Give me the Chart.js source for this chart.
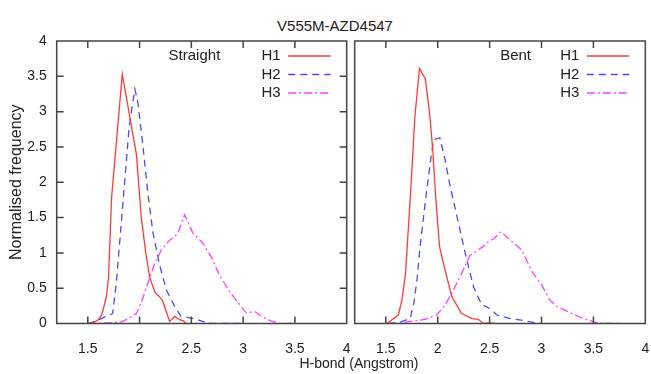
<!DOCTYPE html>
<html>
<head>
<meta charset="utf-8">
<script src="https://cdn.jsdelivr.net/npm/chart.js@4.4.1/dist/chart.umd.min.js"></script>
<style>
  body { margin: 0; background: #fff; }
  #wrap { position: relative; width: 651px; height: 374px; font-family: "Liberation Sans", Arial, sans-serif; color: #222; }
  #left { position: absolute; left: 0; top: 0; }
  #right { position: absolute; left: 351px; top: 0; }
  .txt { position: absolute; text-align: center; white-space: nowrap; }
</style>
</head>
<body>
<div id="wrap">
  <div class="txt" style="left:235px; width:200px; top:17px; line-height:18px; font-size:15px;">V555M-AZD4547</div>
  <canvas id="left" width="351" height="374"></canvas>
  <canvas id="right" width="300" height="374"></canvas>
  <div class="txt" style="left:259px; width:200px; top:354px; line-height:18px; font-size:14px;">H-bond (Angstrom)</div>
</div>
<script>
'use strict'

// tick positions
const xTicks = [1.5, 2, 2.5, 3, 3.5, 4];
const seriesNames = ['H1', 'H2', 'H3'];
const panelNames = ['Straight', 'Bent'];

// Straight panel, [H-bond, frequency]
const straightH1 = [[1.5,0],[1.55,0.01],[1.6,0.05],[1.635,0.12],[1.68,0.38],[1.7,0.64],[1.73,1.78],[1.833,3.53],
  [1.97,2.39],[2.016,1.51],[2.06,1.0],[2.1,0.64],[2.15,0.44],[2.19,0.38],[2.22,0.33],[2.29,0.03],[2.34,0.1],
  [2.39,0.05],[2.42,0.04],[2.45,0]];
const straightH2 = [[1.5,0],[1.57,0.03],[1.63,0.07],[1.74,0.14],[1.775,0.57],[1.81,1.18],[1.85,1.89],[1.9,2.79],
  [1.955,3.32],[1.984,3.12],[2.03,2.55],[2.08,1.85],[2.13,1.28],[2.19,0.85],[2.26,0.47],[2.34,0.24],[2.4,0.1],
  [2.45,0.09],[2.55,0.06],[2.65,0.01],[2.7,0],[3.0,0]];
const straightH3 = [[1.5,0],[1.69,0.01],[1.82,0.02],[1.89,0.07],[1.97,0.14],[2.02,0.31],[2.08,0.57],[2.145,0.85],
  [2.21,1.04],[2.29,1.18],[2.34,1.23],[2.37,1.28],[2.435,1.54],[2.515,1.28],[2.61,1.14],[2.69,0.95],[2.77,0.69],
  [2.87,0.45],[2.97,0.26],[3.03,0.15],[3.11,0.17],[3.18,0.1],[3.26,0.04],[3.35,0],[3.48,0]];

// Bent panel
const bentH1 = [[1.51,0],[1.62,0.12],[1.655,0.33],[1.69,0.71],[1.72,1.42],[1.74,1.89],[1.78,2.93],[1.824,3.61],
  [1.88,3.47],[1.92,3.0],[1.95,2.5],[1.98,1.8],[2.017,1.09],[2.07,0.76],[2.136,0.38],[2.23,0.14],[2.33,0.07],
  [2.39,0.06],[2.44,0],[2.49,0.01],[2.55,0]];
const bentH2 = [[1.525,0],[1.62,0.01],[1.734,0.07],[1.77,0.29],[1.8,0.62],[1.83,1.09],[1.88,1.72],[1.94,2.41],
  [1.96,2.6],[2.02,2.63],[2.07,2.32],[2.12,1.94],[2.2,1.42],[2.28,0.9],[2.345,0.52],[2.425,0.26],[2.47,0.24],
  [2.52,0.19],[2.57,0.12],[2.7,0.07],[2.83,0.04],[2.94,0.01],[2.99,0]];
const bentH3 = [[1.525,0],[1.655,0.01],[1.88,0.06],[1.99,0.12],[2.07,0.26],[2.15,0.47],[2.23,0.71],[2.31,0.96],
  [2.455,1.11],[2.49,1.16],[2.54,1.2],[2.61,1.3],[2.715,1.16],[2.81,1.04],[2.91,0.73],[3.0,0.55],[3.08,0.33],
  [3.15,0.24],[3.28,0.15],[3.4,0.07],[3.535,0.01],[3.66,0],[3.75,0]];

const FONT = '"Liberation Sans", Arial, sans-serif';
const styles = [
  { borderColor: '#ff3b3b', borderDash: [] },
  { borderColor: '#4a4aff', borderDash: [7, 5] },
  { borderColor: '#ff40ff', borderDash: [8, 3, 2, 3] }
];

// gnuplot style box, inward ticks and key
const panelPlugin = {
  id: 'panel',
  afterDatasetsDraw(chart, args, opts) {
    const ctx = chart.ctx, a = chart.chartArea;
    const x = chart.scales.x, y = chart.scales.y;
    ctx.save();
    ctx.strokeStyle = '#444';
    ctx.lineWidth = 1.5;
    ctx.setLineDash([]);
    ctx.beginPath();
    x.ticks.forEach(t => {
      const px = x.getPixelForValue(t.value);
      if (px > a.left + 1 && px < a.right - 1) {
        ctx.moveTo(px, a.bottom); ctx.lineTo(px, a.bottom - 7);
        ctx.moveTo(px, a.top); ctx.lineTo(px, a.top + 7);
      }
    });
    if (opts.yTicks) {
      y.ticks.forEach(t => {
        const py = y.getPixelForValue(t.value);
        if (py > a.top + 1 && py < a.bottom - 1) {
          ctx.moveTo(a.left, py); ctx.lineTo(a.left + 7, py);
          ctx.moveTo(a.right, py); ctx.lineTo(a.right - 7, py);
        }
      });
    }
    ctx.stroke();
    ctx.strokeRect(a.left, a.top, a.width, a.height);

    // key
    ctx.font = '15px ' + FONT;
    ctx.fillStyle = '#222';
    ctx.textBaseline = 'middle';
    ctx.textAlign = 'center';
    ctx.fillText(opts.label, x.getPixelForValue(opts.labelAt), a.top + 15);
    chart.data.datasets.forEach((ds, i) => {
      const ry = a.top + 15 + i * 18.5;
      ctx.textAlign = 'right';
      ctx.fillText(ds.label, a.right - 66, ry);
      ctx.strokeStyle = ds.borderColor;
      ctx.lineWidth = ds.borderWidth;
      ctx.setLineDash(ds.borderDash);
      ctx.beginPath();
      ctx.moveTo(a.right - 58.5, ry);
      ctx.lineTo(a.right - 16, ry);
      ctx.stroke();
    });
    ctx.restore();
  }
};

function hacerDatasets(series) {
  return series.map((pts, i) => ({
    label: seriesNames[i],
    data: pts.map(p => ({ x: p[0], y: p[1] })),
    showLine: true,
    pointRadius: 0,
    borderWidth: 1.3,
    borderColor: styles[i].borderColor,
    borderDash: styles[i].borderDash,
    tension: 0
  }));
}

function dibujarPanel(id, series, label, labelAt, conEjeY, padding) {
  const ctx = document.getElementById(id).getContext('2d');
  return new Chart(ctx, {
    type: 'scatter',
    data: { datasets: hacerDatasets(series) },
    plugins: [panelPlugin],
    options: {
      responsive: false,
      animation: false,
      devicePixelRatio: 1,
      layout: { padding: padding },
      plugins: {
        legend: { display: false },
        tooltip: { enabled: false },
        panel: { label: label, labelAt: labelAt, yTicks: conEjeY }
      },
      scales: {
        x: {
          type: 'linear',
          min: 1.2,
          max: 4,
          afterBuildTicks: s => { s.ticks = xTicks.map(v => ({ value: v })); },
          // fixed height, and no extra side padding for the edge label
          afterFit: s => { s.height = 50.5; s.paddingLeft = 0; s.paddingRight = 0; },
          grid: { display: false, drawTicks: false },
          border: { display: false },
          ticks: { color: '#222', padding: 17, maxRotation: 0, autoSkip: false,
            font: { family: FONT, size: 14 }, callback: v => String(v) }
        },
        y: {
          type: 'linear',
          min: 0,
          max: 4,
          display: conEjeY,
          afterFit: s => { if (conEjeY) s.width = 56.7; },
          grid: { display: false, drawTicks: false },
          border: { display: false },
          ticks: { stepSize: 0.5, color: '#222', padding: 10,
            font: { family: FONT, size: 14 }, callback: v => String(v) },
          title: { display: true, text: 'Normalised frequency', color: '#222',
            font: { family: FONT, size: 16 }, padding: { top: 7, bottom: 0 } }
        }
      }
    }
  });
}

dibujarPanel('left', [straightH1, straightH2, straightH3], panelNames[0], 2.53, true,
  { top: 41, left: 0, right: 4.3, bottom: 0 });
dibujarPanel('right', [bentH1, bentH2, bentH3], panelNames[1], 2.75, false,
  { top: 41, left: 3.7, right: 5.7, bottom: 0 });
</script>
</body>
</html>
